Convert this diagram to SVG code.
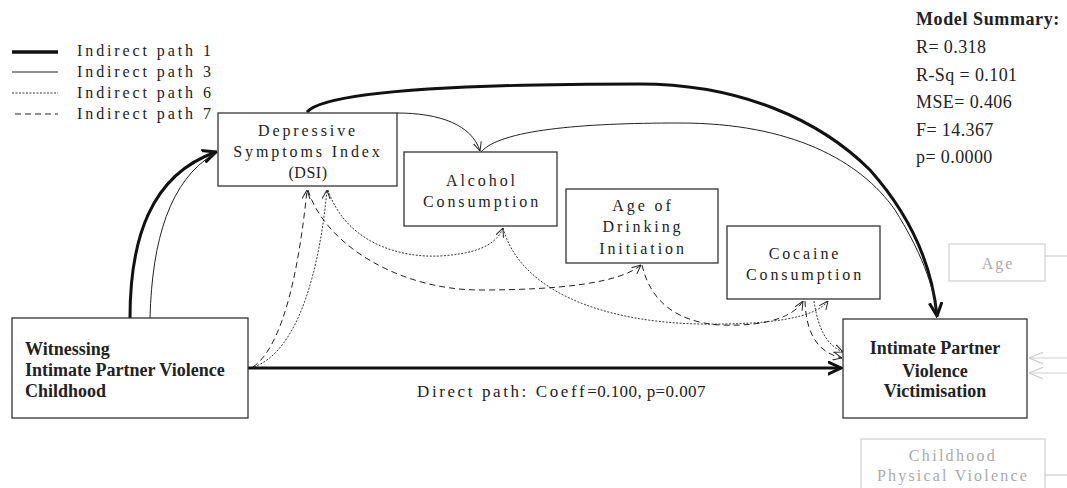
<svg xmlns="http://www.w3.org/2000/svg" width="1067" height="488" viewBox="0 0 1067 488">
<style>
.box{fill:#fff;stroke:#333;stroke-width:1.3}
.gbox{fill:#fff;stroke:#cfcfcf;stroke-width:1.2}
.t{font-family:"Liberation Serif","Times New Roman",serif;font-size:16px;fill:#222;letter-spacing:2.9px}
.tc{text-anchor:middle}
.b{font-family:"Liberation Serif","Times New Roman",serif;font-size:18px;font-weight:bold;fill:#222}
.m{font-family:"Liberation Serif","Times New Roman",serif;font-size:18px;fill:#222;letter-spacing:0.4px}
.g{fill:#aaa}
.p1{fill:none;stroke:#111;stroke-width:3}
.p3{fill:none;stroke:#222;stroke-width:1}
.p6{fill:none;stroke:#222;stroke-width:0.9;stroke-dasharray:2 1.5}
.p7{fill:none;stroke:#222;stroke-width:1;stroke-dasharray:6 4}
.gl{fill:none;stroke:#cfcfcf;stroke-width:1.2}
</style>
<defs>
<marker id="ah" viewBox="0 0 10 10" refX="10" refY="5" markerWidth="9" markerHeight="9" orient="auto" markerUnits="userSpaceOnUse">
<path d="M0,0.5 L10,5 L0,9.5" fill="none" stroke="#222" stroke-width="1.1"/>
</marker>
<marker id="ahT" viewBox="0 0 10 10" refX="9" refY="5" markerWidth="15" markerHeight="15" orient="auto" markerUnits="userSpaceOnUse">
<path d="M0,0.8 L9,5 L0,9.2" fill="none" stroke="#111" stroke-width="2"/>
</marker>
<marker id="ahG" viewBox="0 0 10 10" refX="10" refY="5" markerWidth="14" markerHeight="14" orient="auto" markerUnits="userSpaceOnUse">
<path d="M0,1 L10,5 L0,9" fill="none" stroke="#cfcfcf" stroke-width="0.9"/>
</marker>
</defs>

<g id="legend">
<line x1="12" y1="52" x2="58" y2="52" stroke="#111" stroke-width="3.5"/>
<line x1="12" y1="72" x2="58" y2="72" stroke="#222" stroke-width="1.2"/>
<line x1="12" y1="93" x2="58" y2="93" class="p6"/>
<line x1="15" y1="114" x2="58" y2="114" class="p7"/>
<text class="t" x="77" y="56">Indirect path 1</text>
<text class="t" x="77" y="77">Indirect path 3</text>
<text class="t" x="77" y="98">Indirect path 6</text>
<text class="t" x="77" y="119">Indirect path 7</text>
</g>

<g id="model-summary">
<text class="b" x="916" y="25" style="letter-spacing:0.6px">Model Summary:</text>
<text class="m" x="916" y="53">R= 0.318</text>
<text class="m" x="916" y="81">R-Sq = 0.101</text>
<text class="m" x="916" y="108">MSE= 0.406</text>
<text class="m" x="916" y="136">F= 14.367</text>
<text class="m" x="916" y="163">p= 0.0000</text>
</g>

<g id="connectors">
<!-- path 1 thick -->
<path class="p1" d="M130,318 C130,240 150,175 216,152" marker-end="url(#ahT)"/>
<path class="p1" d="M307,112 C325,92 450,84 640,84 C740,84 820,120 870,170 C910,215 932,265 937,316" marker-end="url(#ahT)"/>
<path class="p1" d="M248,368 L841,368" marker-end="url(#ahT)"/>
<!-- path 3 thin -->
<path class="p3" d="M150,318 C152,240 170,180 214,154"/>
<path class="p3" d="M397,113 C440,113 472,125 480,151" marker-end="url(#ah)"/>
<path class="p3" d="M481,152 C500,130 580,123 680,123 C790,123 860,160 895,210 C920,250 934,285 937,316"/>
<!-- path 7 dashed -->
<path class="p7" d="M253,367 C285,345 300,260 307,190" marker-end="url(#ah)"/>
<path class="p7" d="M308,190 C325,245 400,290 480,290 C560,290 620,283 641,265" marker-end="url(#ah)"/>
<path class="p7" d="M642,265 C650,300 675,322 720,325 C770,327 795,315 803,301" marker-end="url(#ah)"/>
<path class="p7" d="M805,301 C806,330 815,352 842,358" marker-end="url(#ah)"/>
<!-- path 6 dotted -->
<path class="p6" d="M254,367 C300,350 320,265 327,190" marker-end="url(#ah)"/>
<path class="p6" d="M328,190 C345,240 395,258 440,256 C470,254 495,248 503,228" marker-end="url(#ah)"/>
<path class="p6" d="M503,228 C520,290 600,322 700,324 C770,325 815,318 828,301" marker-end="url(#ah)"/>
<path class="p6" d="M814,301 C818,328 826,345 843,352" marker-end="url(#ah)"/>
<!-- grey covariates -->
<line class="gl" x1="1045" y1="256" x2="1067" y2="256"/>
<line class="gl" x1="1045" y1="475" x2="1067" y2="475"/>
<line class="gl" x1="1067" y1="358" x2="1029" y2="358" marker-end="url(#ahG)"/>
<line class="gl" x1="1067" y1="373" x2="1029" y2="373" marker-end="url(#ahG)"/>
</g>

<g id="witnessing">
<rect class="box" x="12" y="318" width="236" height="100"/>
<text class="b" x="25" y="355">Witnessing</text>
<text class="b" x="25" y="376">Intimate Partner Violence</text>
<text class="b" x="25" y="397">Childhood</text>
</g>

<g id="dsi">
<rect class="box" x="218" y="113" width="179" height="73"/>
<text class="t tc" x="308" y="136">Depressive</text>
<text class="t tc" x="308" y="157">Symptoms Index</text>
<text class="t tc" x="308" y="178" style="letter-spacing:0.5px">(DSI)</text>
</g>

<g id="alcohol">
<rect class="box" x="404" y="152" width="153" height="74"/>
<text class="t tc" x="482" y="186">Alcohol</text>
<text class="t tc" x="482" y="207">Consumption</text>
</g>

<g id="age-drinking">
<rect class="box" x="566" y="189" width="152" height="74"/>
<text class="t tc" x="643" y="211">Age of</text>
<text class="t tc" x="643" y="232">Drinking</text>
<text class="t tc" x="643" y="254">Initiation</text>
</g>

<g id="cocaine">
<rect class="box" x="727" y="226" width="153" height="73"/>
<text class="t tc" x="805" y="259">Cocaine</text>
<text class="t tc" x="805" y="280">Consumption</text>
</g>

<g id="ipv">
<rect class="box" x="843" y="319" width="184" height="99"/>
<text class="b tc" x="935" y="354">Intimate Partner</text>
<text class="b tc" x="935" y="377">Violence</text>
<text class="b tc" x="935" y="397">Victimisation</text>
</g>

<g id="age">
<rect class="gbox" x="949" y="244" width="96" height="37"/>
<text class="t tc g" x="998" y="269" style="letter-spacing:2px">Age</text>
</g>

<g id="childhood-physical-violence">
<rect class="gbox" x="861" y="439" width="184" height="70"/>
<text class="t tc g" x="953" y="461" style="letter-spacing:2.3px">Childhood</text>
<text class="t tc g" x="953" y="481" style="letter-spacing:2.2px">Physical Violence</text>
</g>

<text id="direct-label" x="417" y="397" style="font-family:'Liberation Serif','Times New Roman',serif;font-size:17px;fill:#222"><tspan style="letter-spacing:2.6px">Direct path: Coeff</tspan><tspan style="letter-spacing:0.4px">=0.100, p=0.007</tspan></text>
</svg>
